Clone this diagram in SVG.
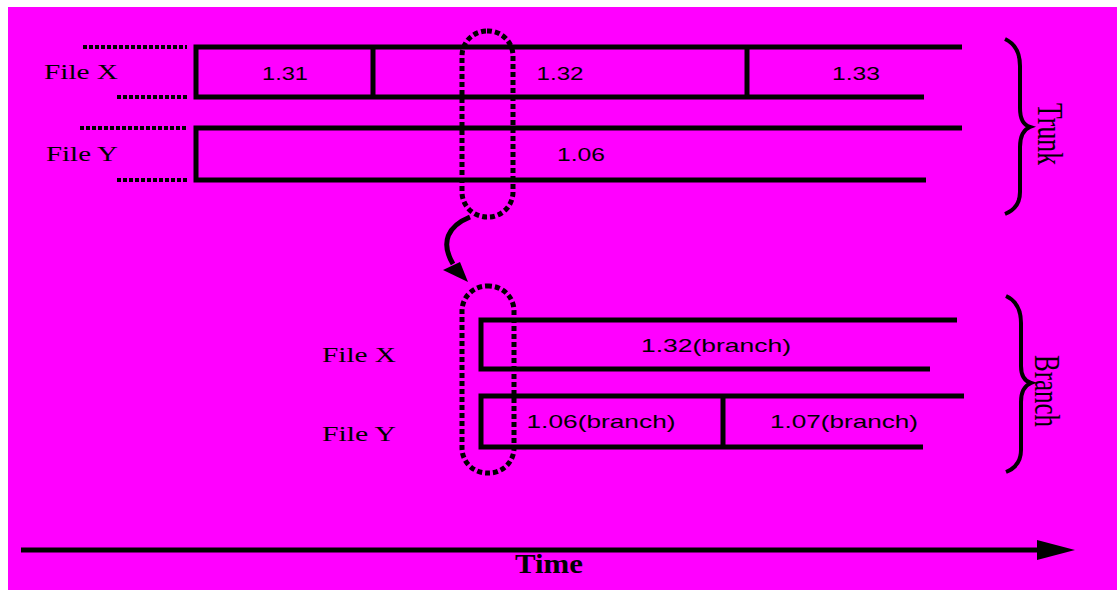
<svg xmlns="http://www.w3.org/2000/svg" width="1117" height="590" viewBox="0 0 1117 590">
<style>
.ln{stroke:#000;stroke-width:5;fill:none}
.dot{stroke:#000;stroke-width:4;stroke-dasharray:4 2;fill:none}
.stad{stroke:#000;stroke-width:5;stroke-dasharray:5 3;fill:none}
.brace{stroke:#000;stroke-width:4;fill:none;stroke-linejoin:miter}
.lbl{font-family:"Liberation Serif",serif;font-size:22px;fill:#000}
.num{font-family:"Liberation Sans",sans-serif;font-size:19px;fill:#000;text-anchor:middle}
.side{font-family:"Liberation Serif",serif;font-size:35px;fill:#000}
</style>
<rect x="0" y="0" width="1117" height="590" fill="#fff"/>
<rect x="8" y="7" width="1109" height="583" fill="#ff00ff"/>

<g id="trunk-file-x">
<line class="dot" x1="83" y1="47" x2="187" y2="47"/>
<line class="dot" x1="117" y1="97" x2="187" y2="97"/>
<path class="ln" d="M962,47 H196 V97 H924"/>
<line class="ln" x1="373" y1="47" x2="373" y2="97"/>
<line class="ln" x1="747" y1="47" x2="747" y2="97"/>
<text class="lbl" x="44" y="79" textLength="74" lengthAdjust="spacingAndGlyphs">File X</text>
<text class="num" x="285" y="80" textLength="46" lengthAdjust="spacingAndGlyphs">1.31</text>
<text class="num" x="560" y="80" textLength="47" lengthAdjust="spacingAndGlyphs">1.32</text>
<text class="num" x="856" y="80" textLength="48" lengthAdjust="spacingAndGlyphs">1.33</text>
</g>

<g id="trunk-file-y">
<line class="dot" x1="80" y1="128" x2="187" y2="128"/>
<line class="dot" x1="117" y1="180" x2="187" y2="180"/>
<path class="ln" d="M962,128 H196 V180 H926"/>
<text class="lbl" x="46" y="161" textLength="72" lengthAdjust="spacingAndGlyphs">File Y</text>
<text class="num" x="581" y="161" textLength="48" lengthAdjust="spacingAndGlyphs">1.06</text>
</g>

<g id="branch-file-x">
<path class="ln" d="M957,320 H481 V369 H930"/>
<text class="lbl" x="322" y="362" textLength="74" lengthAdjust="spacingAndGlyphs">File X</text>
<text class="num" x="716" y="352" textLength="150" lengthAdjust="spacingAndGlyphs">1.32(branch)</text>
</g>

<g id="branch-file-y">
<path class="ln" d="M964,396 H481 V447 H923"/>
<line class="ln" x1="723" y1="396" x2="723" y2="447"/>
<text class="lbl" x="322" y="441" textLength="74" lengthAdjust="spacingAndGlyphs">File Y</text>
<text class="num" x="601" y="428" textLength="149" lengthAdjust="spacingAndGlyphs">1.06(branch)</text>
<text class="num" x="844" y="428" textLength="148" lengthAdjust="spacingAndGlyphs">1.07(branch)</text>
</g>

<g id="trunk-brace">
<path class="brace" d="M1005,39 Q1020,46 1020,66 L1020,108 Q1020,124 1030,127 Q1020,131 1020,147 L1020,192 Q1020,208 1005,214"/>
<text class="side" transform="translate(1038,103) rotate(90)" textLength="62" lengthAdjust="spacingAndGlyphs">Trunk</text>
</g>

<g id="branch-brace">
<path class="brace" d="M1006,296 Q1021,303 1021,323 L1021,366 Q1021,380 1031,383 Q1021,387 1021,402 L1021,450 Q1021,466 1006,472"/>
<text class="side" transform="translate(1035,355) rotate(90)" textLength="72" lengthAdjust="spacingAndGlyphs">Branch</text>
</g>

<g id="connectors">
<rect class="stad" x="462" y="31" width="51" height="186" rx="25" ry="25"/>
<rect class="stad" x="462" y="286" width="52" height="187" rx="25" ry="25"/>
<path class="ln" d="M470,217 C448,226 440,242 453,264"/>
<polygon points="443,270 460,262 468,282" fill="#000"/>
<line class="ln" x1="21" y1="550" x2="1040" y2="550"/>
<polygon points="1037,540 1075,550 1037,560" fill="#000"/>
</g>

<g id="time-label">
<text x="549" y="573" text-anchor="middle" font-family="Liberation Serif, serif" font-weight="bold" font-size="27" textLength="68" lengthAdjust="spacingAndGlyphs">Time</text>
</g>
</svg>
